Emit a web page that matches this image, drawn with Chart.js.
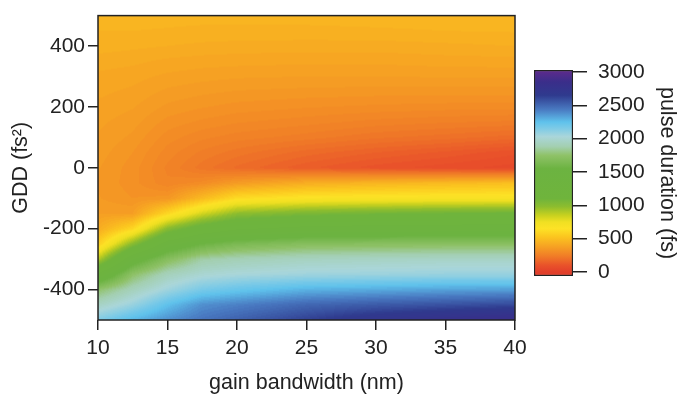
<!DOCTYPE html>
<html>
<head>
<meta charset="utf-8">
<script src="https://cdn.jsdelivr.net/npm/chart.js@4.4.1/dist/chart.umd.min.js"></script>
<style>
  html, body { margin: 0; padding: 0; background: #fff; }
  #wrap { position: relative; width: 682px; height: 398px; }
  #main { position: absolute; left: 0; top: 0; }
  #bar { position: absolute; left: 520px; top: 0; }
</style>
</head>
<body>
<div id="wrap">
  <canvas id="main" width="682" height="398"></canvas>
  <canvas id="bar" width="162" height="398"></canvas>
</div>
<script>
// gain bandwidth (nm) columns and GDD (fs^2) rows of the map
const bandwidths = [10, 12.5, 15, 17.5, 20, 25, 30, 35, 40];
const gddRows = [500, 450, 400, 350, 300, 250, 200, 150, 100, 50, 0,
  -50, -100, -150, -200, -250, -300, -350, -400, -450, -500];

// pulse duration (fs), one array per bandwidth, read top (GDD 500) to bottom (GDD -500)
const bw10 = [460, 450, 440, 420, 405, 395, 385, 375, 368, 360, 352, 348, 352, 370, 420, 560, 880, 1350, 1750, 1950, 2150];
const bw12_5 = [460, 450, 435, 415, 398, 385, 372, 358, 345, 330, 320, 318, 330, 370, 600, 1000, 1450, 1740, 1920, 2080, 2280];
const bw15 = [458, 448, 430, 405, 385, 365, 345, 322, 300, 280, 265, 275, 340, 600, 1000, 1400, 1700, 1920, 2060, 2250, 2380];
const bw17_5 = [458, 445, 425, 400, 378, 355, 332, 305, 275, 245, 220, 300, 480, 820, 1200, 1560, 1860, 2000, 2170, 2380, 2460];
const bw20 = [458, 445, 422, 398, 373, 348, 322, 292, 260, 220, 185, 360, 620, 980, 1300, 1640, 1900, 2030, 2220, 2420, 2520];
const bw25 = [458, 445, 420, 395, 370, 343, 312, 278, 240, 180, 135, 430, 670, 1050, 1370, 1700, 1940, 2060, 2290, 2500, 2630];
const bw30 = [460, 447, 420, 395, 370, 340, 305, 262, 215, 150, 100, 460, 680, 1080, 1390, 1710, 1950, 2070, 2310, 2540, 2730];
const bw35 = [462, 450, 425, 400, 372, 340, 300, 252, 200, 125, 78, 480, 690, 1100, 1400, 1720, 1960, 2080, 2330, 2570, 2800];
const bw40 = [465, 452, 430, 402, 372, 340, 298, 245, 180, 95, 60, 500, 690, 1110, 1400, 1720, 1960, 2080, 2340, 2600, 2860];
const columns = [bw10, bw12_5, bw15, bw17_5, bw20, bw25, bw30, bw35, bw40];

const xTicks = [10, 15, 20, 25, 30, 35, 40];
const yTicks = [-400, -200, 0, 200, 400];
const barTicks = [0, 500, 1000, 1500, 2000, 2500, 3000];

// colour scale of the pulse-duration bar
const scaleValues = [0, 100, 230, 380, 530, 650, 750, 850, 980, 1100, 1550, 1750, 1880, 2030, 2150, 2250, 2430, 2650, 2850, 3000];
const scaleColors = ['#e23f2b', '#e9522a', '#f07a27', '#f6a123', '#fbc61f', '#fde226', '#f0e022', '#c8d11f', '#8dbd2e', '#6fb43c',
  '#6cb341', '#8fc268', '#a3cfb0', '#aad6da', '#7fcbe6', '#5fc2ec', '#4a7cc3', '#2f3a8e', '#3a2e8a', '#5a2b8c'];
const contourStep = 20; // map is shaded in 20 fs contour levels

const ink = '#222';
const tickFont = { family: "'Liberation Sans', Arial, sans-serif", size: 21 };
const titleFont = { family: "'Liberation Sans', Arial, sans-serif", size: 21.5 };

const hexRgb = (h) => [1, 3, 5].map((i) => parseInt(h.slice(i, i + 2), 16));
const stopRgb = scaleColors.map(hexRgb);

function colorFor(v) {
  if (v <= scaleValues[0]) return stopRgb[0];
  const last = scaleValues.length - 1;
  if (v >= scaleValues[last]) return stopRgb[last];
  let k = 1;
  while (scaleValues[k] < v) k++;
  const t = (v - scaleValues[k - 1]) / (scaleValues[k] - scaleValues[k - 1]);
  const a = stopRgb[k - 1], b = stopRgb[k];
  return [0, 1, 2].map((i) => a[i] + (b[i] - a[i]) * t);
}

// locate value between grid nodes
function locate(arr, v) {
  const asc = arr[0] < arr[arr.length - 1];
  for (let k = 0; k < arr.length - 1; k++) {
    const lo = arr[k], hi = arr[k + 1];
    if (asc ? v <= hi : v >= hi) return [k, (v - lo) / (hi - lo)];
  }
  return [arr.length - 2, 1];
}

function sample(bw, gdd) {
  const [i, tx] = locate(bandwidths, bw);
  const [j, ty] = locate(gddRows, gdd);
  const a = columns[i][j], b = columns[i + 1][j];
  const c = columns[i][j + 1], d = columns[i + 1][j + 1];
  const top = a + (b - a) * tx, bot = c + (d - c) * tx;
  return top + (bot - top) * ty;
}

const heatmap = {
  id: 'heatmap',
  beforeDatasetsDraw(chart) {
    const { ctx, chartArea: area, scales: { x, y } } = chart;
    const w = Math.round(area.right - area.left);
    const h = Math.round(area.bottom - area.top);
    const off = document.createElement('canvas');
    off.width = w;
    off.height = h;
    const octx = off.getContext('2d');
    const img = octx.createImageData(w, h);
    for (let r = 0; r < h; r++) {
      const gdd = y.getValueForPixel(area.top + r + 0.5);
      for (let c = 0; c < w; c++) {
        const bw = x.getValueForPixel(area.left + c + 0.5);
        const v = Math.round(sample(bw, gdd) / contourStep) * contourStep;
        const rgb = colorFor(v);
        const p = (r * w + c) * 4;
        img.data[p] = rgb[0];
        img.data[p + 1] = rgb[1];
        img.data[p + 2] = rgb[2];
        img.data[p + 3] = 255;
      }
    }
    octx.putImageData(img, 0, 0);
    ctx.drawImage(off, area.left, area.top);
  },
  afterDraw(chart) {
    const { ctx, chartArea: a } = chart;
    ctx.save();
    ctx.strokeStyle = ink;
    ctx.lineWidth = 1.5;
    ctx.strokeRect(a.left, a.top, a.right - a.left, a.bottom - a.top);
    ctx.restore();
  },
};

new Chart(document.getElementById('main'), {
  type: 'scatter',
  data: { datasets: [{ data: [] }] },
  options: {
    responsive: false,
    animation: false,
    devicePixelRatio: 1,
    layout: { padding: { left: 0, top: 12, right: 167, bottom: 0 } },
    plugins: { legend: { display: false }, tooltip: { enabled: false } },
    scales: {
      x: {
        type: 'linear',
        min: 10,
        max: 40,
        afterBuildTicks: (s) => { s.ticks = xTicks.map((v) => ({ value: v })); },
        afterFit: (s) => { s.height = 78; },
        border: { display: false },
        grid: { drawOnChartArea: false, tickLength: 10, color: ink, lineWidth: 1.5 },
        ticks: { font: tickFont, color: ink, padding: 6, maxRotation: 0, callback: (v) => String(v) },
        title: { display: true, text: 'gain bandwidth (nm)', font: titleFont, color: ink, padding: { top: 0, bottom: 2 } },
      },
      y: {
        type: 'linear',
        min: -500,
        max: 500,
        afterBuildTicks: (s) => { s.ticks = yTicks.map((v) => ({ value: v })); },
        afterFit: (s) => { s.width = 98; },
        border: { display: false },
        grid: { drawOnChartArea: false, tickLength: 10, color: ink, lineWidth: 1.5 },
        ticks: { font: tickFont, color: ink, padding: 3, callback: (v) => String(v) },
        title: { display: true, text: 'GDD (fs²)', font: titleFont, color: ink, padding: { top: 8, bottom: 0 } },
      },
    },
  },
  plugins: [heatmap],
});

// colour bar
new Chart(document.getElementById('bar'), {
  type: 'bar',
  data: {
    labels: ['pulse duration'],
    datasets: [{
      data: [[-60, 3030]],
      barPercentage: 1,
      categoryPercentage: 1,
      borderWidth: 1.5,
      borderColor: ink,
      borderSkipped: false,
      backgroundColor: (c) => {
        const { chart } = c;
        if (!chart.chartArea) return '#fff';
        const ys = chart.scales.y;
        const g = chart.ctx.createLinearGradient(0, ys.getPixelForValue(0), 0, ys.getPixelForValue(3000));
        scaleValues.forEach((v, i) => g.addColorStop(v / 3000, scaleColors[i]));
        return g;
      },
    }],
  },
  options: {
    responsive: false,
    animation: false,
    devicePixelRatio: 1,
    layout: { padding: { left: 14, top: 70, right: 0, bottom: 122 } },
    plugins: { legend: { display: false }, tooltip: { enabled: false } },
    scales: {
      x: { display: false },
      y: {
        position: 'right',
        min: -60,
        max: 3030,
        afterBuildTicks: (s) => { s.ticks = barTicks.map((v) => ({ value: v })); },
        afterFit: (s) => { s.width = 109; },
        border: { display: false },
        grid: { drawOnChartArea: false, tickLength: 14, color: ink, lineWidth: 1.5 },
        ticks: { font: tickFont, color: ink, padding: 11, callback: (v) => String(v) },
        title: { display: true, text: 'pulse duration (fs)', font: titleFont, color: ink, padding: { top: 2, bottom: 0 } },
      },
    },
  },
});
</script>
</body>
</html>
